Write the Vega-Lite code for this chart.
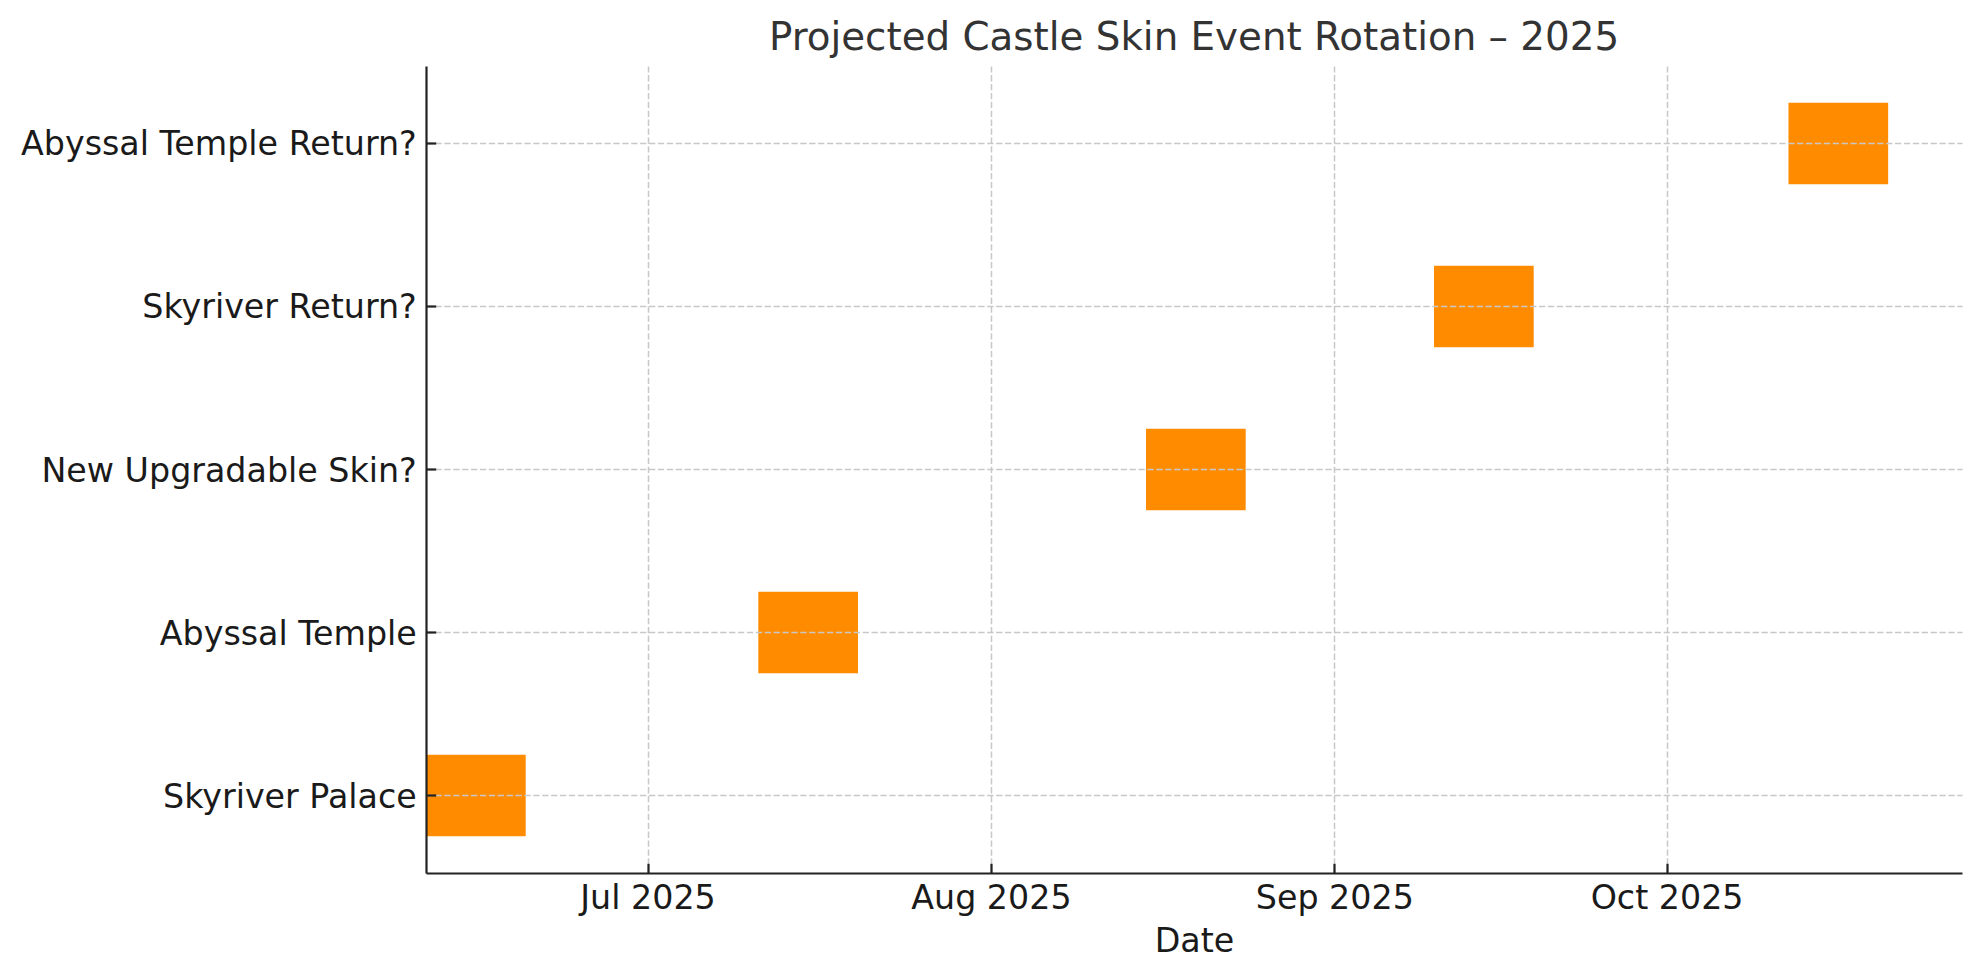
{
  "$schema": "https://vega.github.io/schema/vega-lite/v6.json",
  "width": 1536,
  "height": 807,
  "autosize": "none",
  "padding": {"left": 426, "top": 66, "right": 17, "bottom": 107},
  "background": "white",
  "title": {
    "text": "Projected Castle Skin Event Rotation – 2025",
    "font": "DejaVu Sans",
    "fontSize": 38.8,
    "fontWeight": "normal",
    "color": "#333333",
    "anchor": "middle",
    "offset": 8
  },
  "data": {
    "values": [
      {"event": "Skyriver Palace", "start": "2025-06-11", "end": "2025-06-20"},
      {"event": "Abyssal Temple", "start": "2025-07-11", "end": "2025-07-20"},
      {"event": "New Upgradable Skin?", "start": "2025-08-15", "end": "2025-08-24"},
      {"event": "Skyriver Return?", "start": "2025-09-10", "end": "2025-09-19"},
      {"event": "Abyssal Temple Return?", "start": "2025-10-12", "end": "2025-10-21"}
    ]
  },
  "mark": {"type": "bar", "color": "#FF8C00", "cornerRadius": 0},
  "encoding": {
    "y": {
      "field": "event",
      "type": "nominal",
      "sort": ["Abyssal Temple Return?", "Skyriver Return?", "New Upgradable Skin?", "Abyssal Temple", "Skyriver Palace"],
      "scale": {"paddingInner": 0.5, "paddingOuter": 0.225},
      "axis": {
        "title": null,
        "bandPosition": 0.5,
        "labelFont": "DejaVu Sans",
        "labelFontSize": 33.3,
        "labelColor": "#1a1a1a",
        "labelLimit": 0,
        "labelPadding": 19.4,
        "labelBaseline": "middle",
        "labelOffset": 2,
        "tickSize": -9.7,
        "tickColor": "#222222",
        "tickWidth": 2.2,
        "domainColor": "#222222",
        "domainWidth": 2.2,
        "grid": true,
        "gridColor": "#c8c8c8",
        "gridWidth": 1.5,
        "gridDash": [6.3, 2.6],
        "zindex": 1
      }
    },
    "x": {
      "field": "start",
      "type": "temporal",
      "title": "Date",
      "scale": {
        "type": "utc",
        "domain": [
          {"year": 2025, "month": "jun", "date": 11, "utc": true},
          {"year": 2025, "month": "oct", "date": 27, "hours": 16, "utc": true}
        ]
      },
      "axis": {
        "format": "%b %Y",
        "tickCount": {"interval": "month", "step": 1},
        "labelFont": "DejaVu Sans",
        "labelFontSize": 33.3,
        "labelColor": "#1a1a1a",
        "labelPadding": 19.4,
        "labelFlush": false,
        "labelOverlap": false,
        "tickSize": -9.7,
        "tickColor": "#222222",
        "tickWidth": 2.2,
        "domainColor": "#222222",
        "domainWidth": 2.2,
        "grid": true,
        "gridColor": "#c8c8c8",
        "gridWidth": 1.5,
        "gridDash": [6.3, 2.6],
        "titleFont": "DejaVu Sans",
        "titleFontSize": 33.3,
        "titleFontWeight": "normal",
        "titleColor": "#1a1a1a",
        "titlePadding": 10,
        "zindex": 1
      }
    },
    "x2": {"field": "end"}
  },
  "config": {
    "view": {"stroke": null}
  }
}
